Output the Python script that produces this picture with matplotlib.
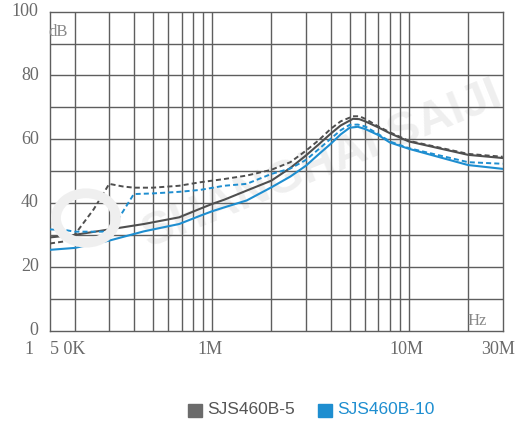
import numpy as np
import matplotlib
matplotlib.use("Agg")
import matplotlib.pyplot as plt
from matplotlib.patches import Circle

# ── data (frequency in Hz, attenuation in dB) ────────────────────────────────
f5_solid = [150e3, 200e3, 300e3, 450e3, 680e3, 870e3, 1e6, 1.15e6, 1.5e6, 2e6, 2.5e6,
            3e6, 3.5e6, 4e6, 4.5e6, 5.2e6, 5.6e6, 6e6, 7e6, 8e6, 10e6, 20e6, 30e6]
db5_solid = [29.2, 30.0, 31.7, 33.4, 35.5, 38.2, 39.7, 41.0, 43.9, 47.0, 51.0,
             54.9, 58.5, 61.7, 64.3, 66.4, 66.3, 65.6, 63.7, 61.9, 59.3, 55.1, 54.1]

f5_dash = [150e3, 180e3, 200e3, 250e3, 300e3, 350e3, 400e3, 500e3, 680e3, 870e3, 1.15e6,
           1.5e6, 2e6, 2.5e6, 3e6, 3.5e6, 4e6, 4.5e6, 5.2e6, 5.6e6, 6e6, 7e6, 8e6, 10e6, 20e6, 30e6]
db5_dash = [27.3, 28.0, 30.0, 38.0, 46.0, 45.2, 44.8, 44.8, 45.4, 46.5, 47.5,
            48.6, 50.4, 52.8, 56.4, 59.8, 63.2, 65.6, 67.2, 67.2, 66.4, 64.0, 62.2, 59.5, 55.4, 54.5]

f10_solid = [150e3, 200e3, 300e3, 450e3, 680e3, 870e3, 1e6, 1.15e6, 1.5e6, 2e6, 2.5e6,
             3e6, 3.5e6, 4e6, 4.5e6, 5e6, 5.5e6, 6e6, 7e6, 8e6, 10e6, 20e6, 30e6]
db10_solid = [25.3, 25.9, 28.2, 31.1, 33.4, 36.0, 37.4, 38.6, 40.8, 44.9, 48.3,
              51.7, 55.4, 58.5, 61.5, 63.6, 63.9, 63.2, 61.3, 59.0, 57.0, 51.9, 50.7]

f10_dash = [150e3, 180e3, 200e3, 300e3, 330e3, 400e3, 500e3, 680e3, 870e3, 1.15e6, 1.5e6,
            2e6, 2.5e6, 3e6, 3.5e6, 4e6, 4.5e6, 5e6, 5.5e6, 6e6, 7e6, 8e6, 10e6, 20e6, 30e6]
db10_dash = [31.7, 31.5, 31.0, 31.0, 34.5, 42.8, 43.0, 43.5, 44.1, 45.4, 46.0,
             49.1, 50.8, 53.5, 57.0, 60.1, 62.8, 64.5, 64.6, 64.0, 61.6, 59.3, 57.2, 52.8, 52.3]

grid_x = [200e3, 300e3, 400e3, 500e3, 600e3, 700e3, 800e3, 900e3,
          1e6, 2e6, 3e6, 4e6, 5e6, 6e6, 7e6, 8e6, 9e6, 10e6, 20e6]
grid_y = [10, 20, 30, 40, 50, 60, 70, 80, 90]
ytick_vals = [0, 20, 40, 60, 80, 100]
legend_names = ["SJS460B-5", "SJS460B-10"]

GRAY = "#4f4f4f"
BLUE = "#1e8ed0"
GRID = "#5e5e5e"
TXT = "#6a6a6a"
WM = "#efefef"

W, H = 516, 425
fig = plt.figure(figsize=(W / 100, H / 100), dpi=100, facecolor="white")


def px(x, y):
    return x / W, 1 - y / H


ax = fig.add_axes([50 / W, 1 - 330.5 / H, 452.7 / W, 318.8 / H])
ax.set_xscale("log")
ax.set_xlim(150e3, 30e6)
ax.set_ylim(0, 100)
ax.set_xticks([]); ax.set_yticks([])
ax.minorticks_off()
for s in ax.spines.values():
    s.set_color(GRID)
    s.set_linewidth(1.0)

# faint watermark
ax.text(0.6, 0.52, "SHANGHAI SAIJI", transform=ax.transAxes, rotation=22,
        ha="center", va="center", fontsize=34, fontweight="bold", color=WM,
        family="Liberation Sans", zorder=0)
ring = Circle(px(86, 218), 30 / W, transform=fig.transFigure, fill=False,
              ec=WM, lw=7, zorder=0)
fig.patches.append(ring)

for gx in grid_x:
    ax.axvline(gx, color=GRID, lw=1.0, zorder=1)
for gy in grid_y:
    ax.axhline(gy, color=GRID, lw=1.0, zorder=1)

ax.plot(f5_solid, db5_solid, color=GRAY, lw=1.5, zorder=3)
ax.plot(f5_dash, db5_dash, color=GRAY, lw=1.4, ls=(0, (2.6, 1.6)), zorder=3)
ax.plot(f10_solid, db10_solid, color=BLUE, lw=1.5, zorder=3)
ax.plot(f10_dash, db10_dash, color=BLUE, lw=1.4, ls=(0, (2.6, 1.6)), zorder=3)

# y labels
for v in ytick_vals:
    ax.text(-0.025, v, str(v), transform=ax.get_yaxis_transform(), ha="right",
            va="center", fontsize=13, color=TXT, family="Liberation Serif")
ax.text(-0.004, 0.935, "dB", transform=ax.transAxes, ha="left", va="center",
        fontsize=12, color="#888888", family="Liberation Serif")
ax.text(0.943, 0.03, "Hz", transform=ax.transAxes, ha="center", va="center",
        fontsize=12, color="#888888", family="Liberation Serif")

# x labels
fig.text(*px(29, 349), "1", ha="center", va="center", fontsize=13, color=TXT,
         family="Liberation Serif")
fig.text(*px(50, 349), "5 0K", ha="left", va="center", fontsize=13, color=TXT,
         family="Liberation Serif")
for x, lab in [(210, "1M"), (406, "10M"), (498, "30M")]:
    fig.text(*px(x, 349), lab, ha="center", va="center", fontsize=13, color=TXT,
             family="Liberation Serif")

# legend
fig.patches.append(plt.Rectangle(px(188, 417), 13.5 / W, 13.5 / H,
                                 transform=fig.transFigure, color="#6b6b6b"))
fig.text(*px(207, 410), legend_names[0], ha="left", va="center", fontsize=12.5,
         color="#555555", family="Liberation Sans")
fig.patches.append(plt.Rectangle(px(318, 417), 13.5 / W, 13.5 / H,
                                 transform=fig.transFigure, color=BLUE))
fig.text(*px(337, 410), legend_names[1], ha="left", va="center", fontsize=12.5,
         color=BLUE, family="Liberation Sans")

fig.savefig("out.png", dpi=100, facecolor="white")
